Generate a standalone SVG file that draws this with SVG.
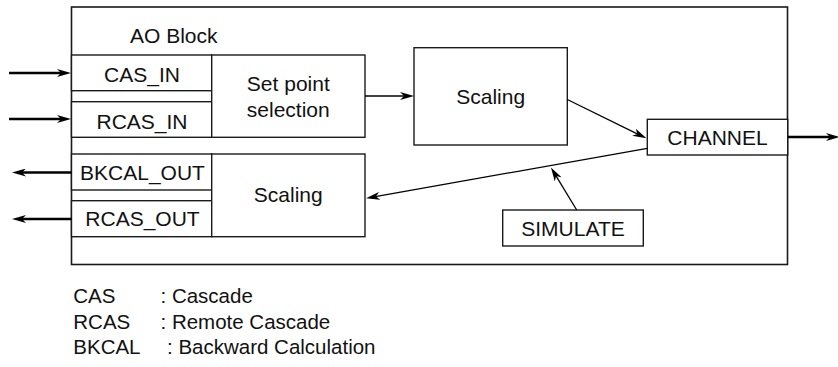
<svg xmlns="http://www.w3.org/2000/svg" width="838" height="367" viewBox="0 0 838 367">
  <style>
    .box { fill: #fff; stroke: #1a1a1a; stroke-width: 1.4; }
    .outer { fill: #fff; stroke: #1a1a1a; stroke-width: 1.6; }
    .lbl { font-family: "Liberation Sans", Arial, sans-serif; font-size: 21px; fill: #111; }
    .key { font-family: "Liberation Sans", Arial, sans-serif; font-size: 20.5px; fill: #111; }
    .mid { text-anchor: middle; }
    .wire { fill: none; stroke: #000; stroke-width: 1.3; marker-end: url(#head); }
    .bus { fill: none; stroke: #000; stroke-width: 2.4; marker-end: url(#head); }
  </style>
  <defs>
    <marker id="head" viewBox="0 0 14 8" refX="6" refY="4" markerWidth="14" markerHeight="8" markerUnits="userSpaceOnUse" orient="auto">
      <path d="M0,0 L14,4 L0,8 L4,4 Z" fill="#000"/>
    </marker>
  </defs>

  <!-- Function block frame -->
  <g id="ao-block">
    <rect class="outer" x="71.5" y="7" width="716" height="257.5"/>
    <text class="lbl" x="130" y="43">AO Block</text>
  </g>

  <!-- Input side -->
  <g id="cas-in">
    <rect class="box" x="71.5" y="55" width="140.2" height="35.7"/>
    <text class="lbl mid" x="142" y="82">CAS_IN</text>
  </g>
  <g id="rcas-in">
    <rect class="box" x="71.5" y="101.7" width="140.2" height="35.6"/>
    <text class="lbl mid" x="142" y="128.5">RCAS_IN</text>
  </g>
  <g id="setpoint-selection">
    <rect class="box" x="211.7" y="55" width="153.3" height="82.3"/>
    <text class="lbl mid" x="288.3" y="90.7">Set point</text>
    <text class="lbl mid" x="288.3" y="116.7">selection</text>
  </g>

  <!-- Output side -->
  <g id="bkcal-out">
    <rect class="box" x="71.5" y="154" width="140.2" height="36"/>
    <text class="lbl mid" x="142.5" y="180">BKCAL_OUT</text>
  </g>
  <g id="rcas-out">
    <rect class="box" x="71.5" y="200.7" width="140.2" height="36"/>
    <text class="lbl mid" x="142.5" y="226">RCAS_OUT</text>
  </g>
  <g id="scaling-back">
    <rect class="box" x="211.7" y="154" width="153.3" height="82.7"/>
    <text class="lbl mid" x="288.3" y="202">Scaling</text>
  </g>

  <g id="scaling-forward">
    <rect class="box" x="414" y="47.7" width="153.3" height="97.3"/>
    <text class="lbl mid" x="490.7" y="104">Scaling</text>
  </g>
  <g id="channel">
    <rect class="box" x="647.3" y="119.3" width="140.4" height="35.7"/>
    <text class="lbl mid" x="717.5" y="145">CHANNEL</text>
  </g>
  <g id="simulate">
    <rect class="box" x="502.7" y="210" width="140.6" height="36"/>
    <text class="lbl mid" x="573" y="236">SIMULATE</text>
  </g>

  <!-- Signal flow -->
  <g id="connectors">
    <line class="bus" x1="9" y1="73" x2="63" y2="73"/>
    <line class="bus" x1="9" y1="119" x2="63" y2="119"/>
    <line class="bus" x1="71.5" y1="172.5" x2="20" y2="172.5"/>
    <line class="bus" x1="71.5" y1="219" x2="20" y2="219"/>
    <line class="bus" x1="787.7" y1="137" x2="832" y2="137"/>
    <line class="wire" x1="365" y1="96" x2="406" y2="96"/>
    <line class="wire" x1="567.3" y1="99.5" x2="639.3" y2="134.8"/>
    <line class="wire" x1="647.3" y1="148.3" x2="373.9" y2="196.9"/>
    <line class="wire" x1="576.7" y1="210" x2="555.1" y2="174.3"/>
  </g>

  <!-- Abbreviations -->
  <g id="legend">
    <text class="key" x="73.3" y="303">CAS</text>
    <text class="key" x="160.5" y="303">: Cascade</text>
    <text class="key" x="73.3" y="328.5">RCAS</text>
    <text class="key" x="160.5" y="328.5">: Remote Cascade</text>
    <text class="key" x="73.3" y="354">BKCAL</text>
    <text class="key" x="167" y="354">: Backward Calculation</text>
  </g>
</svg>
